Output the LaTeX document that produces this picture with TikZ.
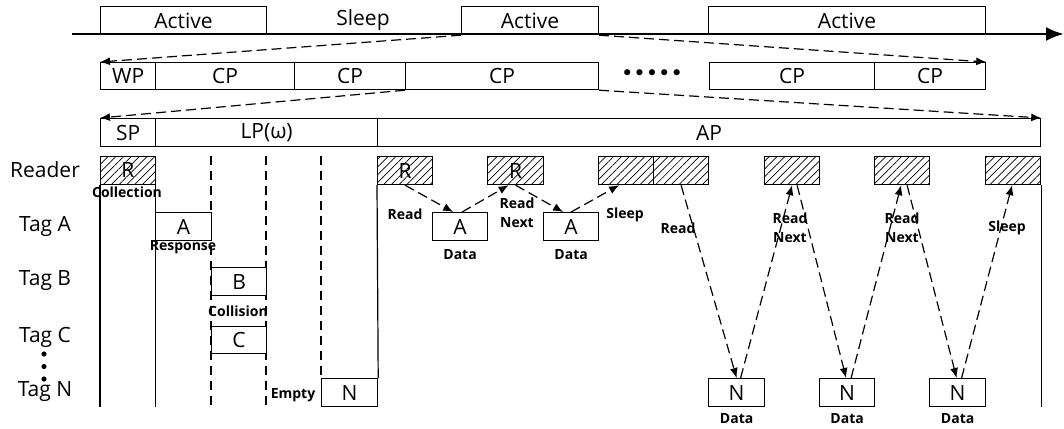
\documentclass[tikz,border=0pt]{standalone}
\usepackage{fontspec}
\setmainfont{Open Sans}
\newfontfamily\dejavu{DejaVu Sans}
\usetikzlibrary{arrows.meta,patterns.meta,calc}
\begin{document}
\begin{tikzpicture}[x=1pt,y=-1pt,
  box/.style={draw,line width=1.2pt,inner sep=0pt,anchor=north west,font=\fontsize{21}{24}\selectfont},
  hbox/.style={box,pattern={Lines[angle=45,distance=5.5pt,line width=0.7pt]}},
  big/.style={inner sep=0pt,font=\fontsize{21}{24}\selectfont},
  lbl/.style={inner sep=0pt,align=center,font=\fontsize{14}{19}\selectfont\bfseries},
  dsh/.style={line width=1.2pt,dash pattern=on 10pt off 5pt},
  arr/.style={dsh,-{Latex[length=10pt,width=8pt]}},
  vdsh/.style={line width=1.2pt,dash pattern=on 9pt off 6pt},
  vsol/.style={line width=1.2pt}]
\useasboundingbox (0,0) rectangle (1064,428);
% row 1
\node[box,minimum width=166,minimum height=28] (act1) at (100,6) {Active};
\node[box,minimum width=137,minimum height=28] (act2) at (461,6) {Active};
\node[box,minimum width=277,minimum height=28] (act3) at (708,6) {Active};
\node[big] (sleep) at (363,20) {Sleep};
% row 2
\node[box,minimum width=55,minimum height=27] (wp) at (100,62) {WP};
\node[box,minimum width=139,minimum height=27] (cp1) at (155,62) {CP};
\node[box,minimum width=111,minimum height=27] (cp2) at (294,62) {CP};
\node[box,minimum width=193,minimum height=27] (cp3) at (405,62) {CP};
\node[inner sep=0pt,font=\dejavu\fontsize{21}{24}\selectfont] (dots) at (652,75) {•••••};
\node[box,minimum width=165,minimum height=27] (cp4) at (709,62) {CP};
\node[box,minimum width=111,minimum height=27] (cp5) at (874,62) {CP};
% row 3
\node[box,minimum width=55,minimum height=28] (sp) at (100,118) {SP};
\node[box,minimum width=222,minimum height=28] (lp) at (155,118) {LP(ω)};
\node[box,minimum width=663,minimum height=28] (ap) at (377,118) {AP};
% expansion arrows
\draw[arr] (act2.south west) -- (wp.north west);
\draw[arr] (act2.south east) -- (cp5.north east);
\draw[arr] (cp3.south west) -- (sp.north west);
\draw[arr] (cp3.south east) -- (ap.north east);
% timeline
\coordinate (tl0) at (72,34);
\coordinate (tl1) at (1064,34);
\draw[line width=2.6pt,-{Latex[length=18pt,width=14pt]}] (tl0) -- (tl1);
% row labels
\node[big] (lread) at (45,170) {Reader};
\node[big] (lta) at (45,226) {Tag A};
\node[big] (ltb) at (45,281) {Tag B};
\node[big] (ltc) at (45,337) {Tag C};
\node[big] (ltn) at (45,392) {Tag N};
\fill (44,354) circle (2.6);
\fill (44,366.5) circle (2.6);
\fill (44,379) circle (2.6);
% reader boxes
\node[hbox,minimum width=55,minimum height=28] (r0) at (100,156) {R};
\node[hbox,minimum width=55,minimum height=28] (r1) at (377,156) {R};
\node[hbox,minimum width=56,minimum height=28] (r2) at (487,156) {R};
\node[hbox,minimum width=55,minimum height=28] (r3) at (598,156) {};
\node[hbox,minimum width=55,minimum height=28] (r4) at (653,156) {};
\node[hbox,minimum width=55,minimum height=28] (r5) at (764,156) {};
\node[hbox,minimum width=55,minimum height=28] (r6) at (874,156) {};
\node[hbox,minimum width=55,minimum height=28] (r7) at (985,156) {};
% bottom reference
\coordinate (bot) at (0,407);
% vertical lines
\draw[vsol] (r0.south west) -- (r0.south west |- bot);
\draw[vsol] (r0.south east) -- (r0.south east |- bot);
\draw[vdsh] (211,156) -- (211,407);
\draw[vdsh] (266,156) -- (266,407);
\draw[vdsh] (321,156) -- (321,378);
\draw[vsol] (r7.south east) -- (r7.south east |- bot);
% tag boxes
\node[box,fill=white,minimum width=56,minimum height=28] (ta) at (155,212) {A};
\node[box,fill=white,minimum width=55,minimum height=28] (tb) at (211,267) {B};
\node[box,fill=white,minimum width=55,minimum height=27] (tc) at (211,326) {C};
\node[box,fill=white,minimum width=56,minimum height=28] (tn) at (321,378) {N};
\draw[vsol] (r1.south west) -- (tn.north east);
\node[box,minimum width=55,minimum height=28] (a1) at (432,212) {A};
\node[box,minimum width=55,minimum height=28] (a2) at (543,212) {A};
\node[box,minimum width=56,minimum height=28] (n1) at (708,378) {N};
\node[box,minimum width=55,minimum height=28] (n2) at (819,378) {N};
\node[box,minimum width=56,minimum height=28] (n3) at (929,378) {N};
% small labels
\node[lbl] (lcoll) at (127,192) {Collection};
\node[lbl] (lresp) at (183,247) {Response};
\node[lbl] (lcoli) at (238,311) {Collision};
\node[lbl] (lempty) at (293,395) {Empty};
\node[lbl] (lrd1) at (405,214) {Read};
\node[lbl] (lrn1) at (517,213) {Read\\Next};
\node[lbl] (lsl1) at (625,215) {Sleep};
\node[lbl] (ld1) at ($(a1.south)+(0,13)$) {Data};
\node[lbl] (ld2) at ($(a2.south)+(0,13)$) {Data};
\node[lbl] (lrd2) at (678,228) {Read};
\node[lbl] (lrn2) at (790,228) {Read\\Next};
\node[lbl] (lrn3) at (902,228) {Read\\Next};
\node[lbl] (lsl2) at (1007,228) {Sleep};
\node[lbl] (ld3) at ($(n1.south)+(0,11)$) {Data};
\node[lbl] (ld4) at ($(n2.south)+(0,11)$) {Data};
\node[lbl] (ld5) at ($(n3.south)+(0,11)$) {Data};
% access arrows
\draw[arr] (r1.south) -- ($(a1.north)+(-7,0)$);
\draw[arr] ($(a1.north)+(2,0)$) -- ($(r2.south)+(-7,0)$);
\draw[arr] (r2.south) -- ($(a2.north)+(-8,0)$);
\draw[arr] (a2.north) -- ($(r3.south)+(-7,0)$);
\draw[arr] (r4.south) -- (n1.north);
\draw[arr] ($(n1.north)+(4,0)$) -- (r5.south);
\draw[arr] ($(r5.south)+(5,0)$) -- ($(n2.north)+(-1,0)$);
\draw[arr] ($(n2.north)+(4,0)$) -- ($(r6.south)+(-1,0)$);
\draw[arr] ($(r6.south)+(5,0)$) -- ($(n3.north)+(-1,0)$);
\draw[arr] ($(n3.north)+(4,0)$) -- ($(r7.south)+(-1,0)$);
\end{tikzpicture}
\end{document}
